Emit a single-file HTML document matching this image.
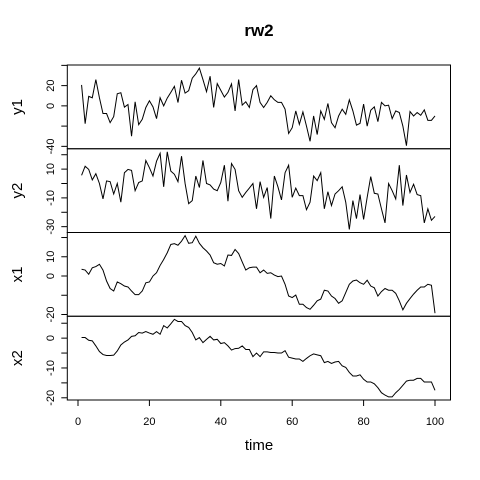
<!DOCTYPE html>
<html><head><meta charset="utf-8"><style>
html,body{margin:0;padding:0;background:#fff;}
svg{display:block;font-family:"Liberation Sans",Arial,sans-serif;}
</style></head><body>
<svg id="chart" width="480" height="480" viewBox="0 0 480 480" xmlns="http://www.w3.org/2000/svg">
<rect width="480" height="480" fill="#fff"/>
<text x="259" y="36" text-anchor="middle" font-size="17" font-weight="bold">rw2</text>
<text x="259" y="450" text-anchor="middle" font-size="15">time</text>
<g id="panels"></g>
</svg>
<script>
const seriesNames = ["y1","y2","x1","x2"];
const y1 = [20.7,-17.6,9.4,8,26,8,-7.6,-7.6,-16.6,-10.6,12,13,-1.3,1.3,-30,4,-18.6,-13.3,-1.6,5,-1,-12.6,8,0,7.7,13.3,19.3,3.3,25.3,12.6,15,27.3,31.6,37.3,26,14,29.3,-1.6,22,15.3,8.7,13.3,21.7,-5,26,0.7,4,-1.6,16,20,3.4,-1.6,3.4,10,6,3.4,3.4,-3.3,-27.3,-21.6,-5,-18.3,-6,-20,-35,-10,-28.3,-5,-13.3,2.4,-16.6,-21.6,-10,-3.3,-8.3,6,-5,-19,-17.3,1.7,-20,-4.3,-1,-15.6,3.4,0,0.7,-12.6,-5,-6.6,-20,-39.3,-5.6,-10,-6.6,-9.3,-4,-14.3,-14.3,-10];
const y2 = [5.7,12,9.8,2.5,6.8,0,-10.7,1.8,1.3,-7.3,0,-13,7.5,9.8,9.1,-5,0.7,1.8,16,11,5.2,15.5,21,-2.3,22,8.6,6.4,1.3,19,0,-14,-11.9,5.2,-2.8,16,0,-1,-3.9,-5,0.7,12.7,-12.3,13.9,9.8,-5,-9.6,-6.2,-3.2,0,-17.6,1.3,-9.6,-2.8,-24.4,5.2,-2.3,-11.4,7.5,12.7,-9.6,-3.2,-8.4,-8.4,-18.2,-13,5.2,2,7.5,-17.6,-5.7,-15.3,-7.3,-5,-2.3,-13,-31.9,-11.9,-24.4,-7.7,-25,-9.6,4.8,-6.8,-7.3,-17.6,-27.4,0,-5,-10.7,12.7,-15.3,5.9,-6.2,-0.5,-7.7,-8.4,-27.4,-17.6,-25.6,-22.9];
const x1 = [3.5,3.1,0.9,4.3,4.9,6.1,3.1,-2.6,-6.5,-7.8,-3.1,-4,-5.2,-5.7,-7.8,-9.7,-9.7,-7.8,-3.5,-3.1,0,1.7,5.5,8.6,12.1,16.4,16.8,16,18.1,21,17,17.3,20.7,17,14.7,13,10.9,6.9,6.1,6.5,5.2,10.9,10.7,13.8,11.7,7.3,3.1,4.3,4.6,4.6,1.7,3.1,1.4,1.7,0.5,-0.3,0,-4.3,-10.4,-11.2,-9.9,-14.7,-14.7,-16.4,-17.3,-15.2,-12.9,-12,-7.4,-7.8,-10.4,-11.7,-14.2,-12.9,-8.6,-4.3,-2.6,-2.1,-3.5,-4.3,-2.2,-5.2,-6.1,-10.4,-8.1,-6.5,-7.4,-7.4,-9,-12.9,-17.6,-14.2,-11.7,-9.4,-7.4,-5.7,-5.7,-4.3,-4.8,-19.3];
const x2 = [0.2,0.2,-0.7,-0.9,-2.6,-4.5,-5.5,-5.8,-5.8,-5.7,-4.3,-2.3,-1.3,-0.6,0.6,0.8,1.9,1.7,2.2,1.7,1.3,2.2,1.3,4.2,3.4,4.8,6.3,5.6,5.6,4.2,3.6,1.9,-0.6,0.2,-1.5,-0.4,0.6,-0.6,-0.4,-1.8,-1.5,-2.6,-4,-3.5,-3.4,-2.6,-3.8,-3.8,-6.2,-5,-6.2,-4.6,-4.6,-4.8,-4.8,-5,-5,-4.2,-6.4,-6.7,-7,-7,-7.8,-6.8,-5.9,-5.3,-5.6,-5.9,-8.2,-7.8,-8.5,-8,-7.8,-9.3,-9.8,-11.5,-12.7,-12.7,-12.3,-13.8,-14.7,-14.7,-15.3,-16.6,-18.3,-19.1,-19.7,-19.7,-18.3,-17.2,-15.8,-14.4,-14.1,-14.1,-13.5,-13.5,-14.7,-14.7,-14.7,-17.5];
const yTicks = [[40,20,0,-20,-40],[20,10,0,-10,-20,-30],[20,10,0,-10,-20],[5,0,-5,-10,-15,-20]];
const yLabels = [["20","0","-40"],["10","-10","-30"],["10","0","-20"],["0","-10","-20"]];
const xTicks = [0,20,40,60,80,100];

const NS="http://www.w3.org/2000/svg";
const g=document.getElementById('panels');
const allData=[y1,y2,x1,x2];
const L=67.3,R=450.5,T=65,B=400;
const ph=(B-T)/4;
function xs(t){return 78+t*3.57;}
function mk(tag,attrs){const e=document.createElementNS(NS,tag);for(const k in attrs)e.setAttribute(k,attrs[k]);g.appendChild(e);return e;}
allData.forEach((d,i)=>{
  const top=T+i*ph,bot=top+ph;
  const mn=Math.min(...d),mx=Math.max(...d),pad=(mx-mn)*0.04;
  const lo=mn-pad,hi=mx+pad;
  const ys=v=>bot-(v-lo)/(hi-lo)*ph;
  const r=mk('rect',{x:L,y:top,width:R-L,height:ph,fill:'none',stroke:'#000','stroke-width':1});
  
  
  const pts=d.map((v,k)=>xs(k+1).toFixed(2)+','+ys(v).toFixed(2)).join(' ');
  const pl=mk('polyline',{points:pts,fill:'none',stroke:'#000','stroke-width':1});
  
  
  yTicks[i].forEach(tv=>{
    const y=ys(tv); if(y<top-0.5||y>bot+0.5) return;
    const tk=mk('line',{x1:L-6,x2:L,y1:y,y2:y,stroke:'#000','stroke-width':1});
    
    
  });
  yLabels[i].forEach(lab=>{
    const y=ys(parseFloat(lab));
    const t=mk('text',{x:0,y:0,'text-anchor':'middle','font-size':11,transform:'translate(54,'+y.toFixed(1)+') rotate(-90)'});
    t.textContent=lab;
    
    
  });
  const at=mk('text',{x:0,y:0,'text-anchor':'middle','font-size':15,transform:'translate(22,'+((top+bot)/2).toFixed(1)+') rotate(-90)'});
  at.textContent=seriesNames[i];
  
  
});
xTicks.forEach(tv=>{
  const x=xs(tv);
  const tk=mk('line',{x1:x,x2:x,y1:B,y2:B+6,stroke:'#000','stroke-width':1});
  
  
  const t=mk('text',{x:x,y:B+25,'text-anchor':'middle','font-size':11});
  t.textContent=String(tv);
  
  
});
const ax=mk('line',{x1:xs(0),x2:xs(100),y1:B,y2:B,stroke:'#000','stroke-width':1});


</script>
</body></html>
